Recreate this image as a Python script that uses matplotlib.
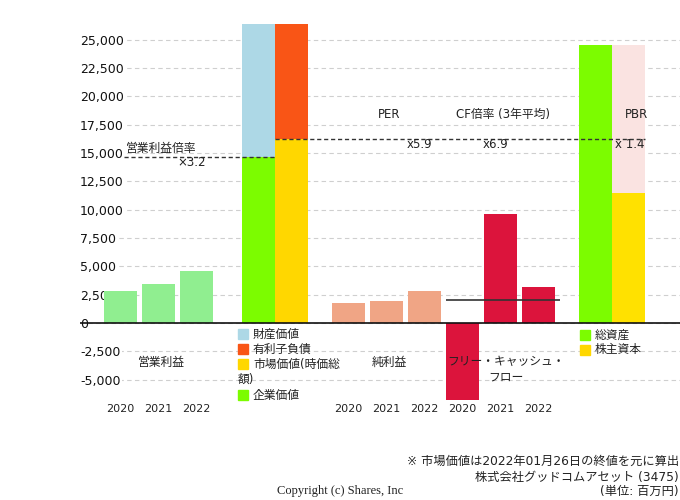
import matplotlib
matplotlib.use("Agg")
import matplotlib.pyplot as plt
from matplotlib.patches import Rectangle
import numpy as np

plt.rcParams['font.family'] = ['DejaVu Sans', 'Noto Sans CJK JP']

# ---- data (百万円) ----
years = ["2020", "2021", "2022"]
op_profit = [2830, 3445, 4620]
net_income = [1795, 1940, 2830]
fcf = [-6800, 9630, 3180]
enterprise_value = 14690
asset_value_top = 30000
market_cap = 16280
debt_top = 30000
total_assets = 24560
equity = 11480
op_multiple_label = "×3.2"
per_label = "x5.9"
cf_label = "x6.9"
pbr_label = "x 1.4"
yticks = [-5000, -2500, 0, 2500, 5000, 7500, 10000, 12500, 15000, 17500, 20000, 22500, 25000]

# ---- colors ----
c_op = "#90EE90"
c_green = "#7CFC00"
c_lblue = "#ADD8E6"
c_orange = "#F95516"
c_gold = "#FFD700"
c_ni = "#F0A585"
c_fcf = "#DC143C"
c_pink = "#FAE3E1"
c_bsy = "#FFE100"

W, H = 680, 500
fig = plt.figure(figsize=(6.8, 5.0), dpi=100)
ax = fig.add_axes([80 / W, 100 / H, 600 / W, 376 / H])
ax.set_xlim(-1.066, 14.72)
ax.set_ylim(-6800, 26400)
for s in ax.spines.values():
    s.set_visible(False)
ax.set_xticks([])
ax.set_yticks(yticks, [f"{v:,}" for v in yticks])
ax.tick_params(axis='y', length=0, pad=0, labelsize=9, labelcolor="#111")
for lbl in ax.get_yticklabels():
    lbl.set_ha('left')
    lbl.set_bbox(dict(facecolor='white', edgecolor='none', pad=1))
ax.set_axisbelow(True)
ax.yaxis.grid(True, color="#cfcfcf", ls=(0, (4, 3)), lw=0.8)

w = 0.87
op_x = [0, 1, 2]
ni_x = [6, 7, 8]
fcf_x = [9, 10, 11]
ev_l, ev_r = 3.63, 4.5
bs_l, bs_r = 12.5, 13.37

ax.bar(op_x, op_profit, width=w, color=c_op, zorder=2)
ax.bar(ev_l, enterprise_value, width=w, color=c_green, zorder=2)
ax.bar(ev_l, asset_value_top - enterprise_value, bottom=enterprise_value, width=w, color=c_lblue, zorder=2)
ax.bar(ev_r, market_cap, width=w, color=c_gold, zorder=2)
ax.bar(ev_r, debt_top - market_cap, bottom=market_cap, width=w, color=c_orange, zorder=2)
ax.bar(ni_x, net_income, width=w, color=c_ni, zorder=2)
ax.bar(fcf_x, fcf, width=w, color=c_fcf, zorder=2)
ax.bar(bs_l, total_assets, width=w, color=c_green, zorder=2)
ax.bar(bs_r, total_assets - equity, bottom=equity, width=w, color=c_pink, zorder=2)
ax.bar(bs_r, equity, width=w, color=c_bsy, zorder=2)

ax.axhline(0, color="#111", lw=1.2, zorder=3)

# annotation lines
ax.hlines(enterprise_value, 0.1, ev_l + w / 2, colors="#333", linestyles=(0, (3, 2)), lw=1, zorder=4)
ax.hlines(market_cap, ev_r - w / 2, bs_r + w / 2, colors="#333", linestyles=(0, (3, 2)), lw=1, zorder=4)
ax.hlines(np.mean(fcf), 8.57, 11.57, colors="#333", lw=1.2, zorder=4)

tc = "#222"
fs = 8.5
ax.text(1.07, 15370, "営業利益倍率", ha='center', va='center', fontsize=fs, color=tc, zorder=5)
ax.text(1.88, 14130, op_multiple_label, ha='center', va='center', fontsize=fs, color=tc, zorder=5)
ax.text(7.07, 18370, "PER", ha='center', va='center', fontsize=fs, color=tc, zorder=5)
ax.text(7.86, 15720, per_label, ha='center', va='center', fontsize=fs, color=tc, zorder=5)
ax.text(10.07, 18370, "CF倍率 (3年平均)", ha='center', va='center', fontsize=fs, color=tc, zorder=5)
ax.text(9.86, 15720, cf_label, ha='center', va='center', fontsize=fs, color=tc, zorder=5)
ax.text(13.57, 18370, "PBR", ha='center', va='center', fontsize=fs, color=tc, zorder=5)
ax.text(13.41, 15720, pbr_label, ha='center', va='center', fontsize=fs, color=tc, zorder=5)

ax.text(1.07, -3445, "営業利益", ha='center', va='center', fontsize=fs, color=tc, zorder=5)
ax.text(7.07, -3445, "純利益", ha='center', va='center', fontsize=fs, color=tc, zorder=5)
ax.text(10.14, -4110, "フリー・キャッシュ・\nフロー", ha='center', va='center', fontsize=fs,
        color=tc, zorder=5, linespacing=1.25)

for xs in (op_x, ni_x, fcf_x):
    for xi, yr in zip(xs, years):
        ax.text(xi, -7600, yr, ha='center', va='center', fontsize=8, color=tc, clip_on=False)

# legends (figure pixel coords)
def fx(px):
    return px / W

def fy(py):
    return 1 - py / H

def legend_item(px, py, color, label):
    fig.patches.append(Rectangle((fx(px), fy(py) - 5 / H), 10 / W, 10 / H,
                                 transform=fig.transFigure, color=color))
    fig.text(fx(px + 15), fy(py), label, ha='left', va='center', fontsize=fs, color=tc)

legend_item(238, 334, c_lblue, "財産価値")
legend_item(238, 349, c_orange, "有利子負債")
legend_item(238, 364, c_gold, "市場価値(時価総")
fig.text(fx(238), fy(379), "額)", ha='left', va='center', fontsize=fs, color=tc)
legend_item(238, 395, c_green, "企業価値")
legend_item(580, 335, c_green, "総資産")
legend_item(580, 350, c_gold, "株主資本")

# footer
fig.text(fx(679), fy(461), "※ 市場価値は2022年01月26日の終値を元に算出", ha='right', va='center', fontsize=8.8, color=tc)
fig.text(fx(679), fy(477), "株式会社グッドコムアセット (3475)", ha='right', va='center', fontsize=8.8, color=tc)
fig.text(fx(679), fy(491), "(単位: 百万円)", ha='right', va='center', fontsize=8.8, color=tc)
fig.text(fx(340), fy(491), "Copyright (c) Shares, Inc", ha='center', va='center', fontsize=9,
         family='Liberation Serif', color=tc)

fig.savefig("out.png", dpi=100)
